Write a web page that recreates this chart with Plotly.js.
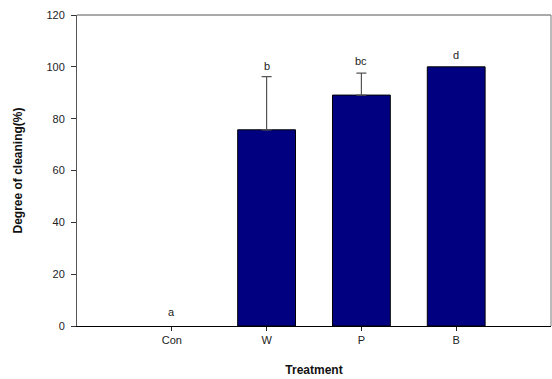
<!DOCTYPE html>
<html><head><meta charset="utf-8">
<script src="https://cdn.plot.ly/plotly-3.0.1.min.js"></script>
<style>body{margin:0;background:#fff}#chart{width:552px;height:379px}</style>
</head><body><div id="chart"></div>
<script>
var categories = ["Con", "W", "P", "B"];
var values = [0, 75.7, 89.1, 100];
var errorsPlus = [0, 20.5, 8.5, 0];
var letters = ["a", "b", "bc", "d"];
var letterY = [5.4, 100.4, 102.3, 104.7];
var yTicks = [0, 20, 40, 60, 80, 100, 120];

var idx = [];
errorsPlus.forEach(function(e, i){ if (e > 0) idx.push(i); });

var barTrace = {
  type: "bar",
  x: categories,
  y: values,
  width: 0.61,
  marker: {color: "#000080", line: {color: "#000", width: values.map(function(v){ return v > 0 ? 1 : 0; })}},
  hoverinfo: "none"
};

var errTrace = {
  type: "scatter", mode: "markers",
  x: idx.map(function(i){ return categories[i]; }),
  y: idx.map(function(i){ return values[i]; }),
  marker: {size: 0.1, opacity: 0},
  error_y: {type: "data", symmetric: false,
            array: idx.map(function(i){ return errorsPlus[i]; }),
            arrayminus: idx.map(function(){ return 0; }),
            color: "#555", thickness: 1.2, width: 5},
  hoverinfo: "none"
};

var annotations = categories.map(function(c, i){
  return {x: c, y: letterY[i], xref: "x", yref: "y", text: letters[i], showarrow: false,
          font: {family: "Liberation Sans, Arial, sans-serif", size: 11, color: "#222"}};
});

var layout = {
  width: 552, height: 379,
  margin: {l: 77, r: 1, t: 15, b: 53},
  paper_bgcolor: "#fff", plot_bgcolor: "#fff",
  showlegend: false,
  font: {family: "Liberation Sans, Arial, sans-serif", size: 11, color: "#222"},
  xaxis: {
    type: "category", range: [-1, 4], categoryarray: categories,
    showline: true, linecolor: "#000", linewidth: 1.2,
    ticks: "outside", ticklen: 4, tickcolor: "#222",
    showgrid: false, zeroline: false,
    title: {text: "Treatment", font: {size: 12, weight: "bold", color: "#111"}, standoff: 20}
  },
  yaxis: {
    range: [0, 120], tickvals: yTicks,
    showline: true, linecolor: "#555", linewidth: 1,
    ticks: "outside", ticklen: 5, tickcolor: "#333",
    ticklabelstandoff: 4,
    showgrid: false, zeroline: false,
    title: {text: "Degree of cleaning(%)", font: {size: 12, weight: "bold", color: "#111"}, standoff: 21}
  },
  shapes: [
    {type: "line", xref: "paper", yref: "paper", x0: 0, x1: 1, y0: 1, y1: 1, line: {color: "#555", width: 1}},
    {type: "line", xref: "paper", yref: "paper", x0: 1, x1: 1, y0: 0, y1: 1, line: {color: "#777", width: 1}}
  ],
  annotations: annotations
};

Plotly.newPlot("chart", [barTrace, errTrace], layout, {staticPlot: true, displayModeBar: false});
</script></body></html>
